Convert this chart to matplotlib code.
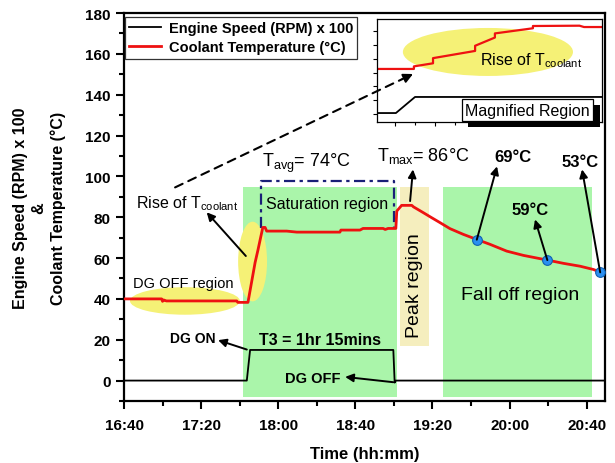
import numpy as np
import matplotlib
matplotlib.use("Agg")
import matplotlib.pyplot as plt
from matplotlib.patches import Ellipse, Rectangle, ConnectionPatch

plt.rcParams['font.family'] = ['Liberation Sans', 'DejaVu Sans']
plt.rcParams['mathtext.fontset'] = 'custom'
plt.rcParams['mathtext.rm'] = 'Liberation Sans'
plt.rcParams['mathtext.it'] = 'Liberation Sans:italic'
plt.rcParams['mathtext.bf'] = 'Liberation Sans:bold'
plt.rcParams['mathtext.default'] = 'regular'

# ---------------- data (time in minutes after 16:40) ----------------
tick_minutes = [0, 40, 80, 120, 160, 200, 240]
tick_labels = ["16:40", "17:20", "18:00", "18:40", "19:20", "20:00", "20:40"]

speed_t = [0, 63.7, 65.4, 139.7, 140.4, 141.0, 249.5]
speed_v = [0, 0, 15, 15, -1, 0, 0]

temp_t = [0, 19.5, 20.0, 20.5, 22.0, 58.5, 59.0, 64.3, 68.0, 69.5, 72.0, 73.2,
          74.0, 84.4, 89.6, 112.0, 112.5, 122.4, 124.0, 134.4, 135.5, 137.0,
          141.0, 141.5, 144.0, 149.3, 150.1, 155.3, 158.8, 164.0, 169.1, 176.0,
          183.0, 189.9, 198.5, 207.2, 219.6, 228.0, 236.6, 243.5, 247.0, 249.5]
temp_v = [40, 40, 38.8, 39.5, 39.0, 39.0, 38.3, 38.3, 57.8, 64.0, 75.0, 75.0,
          73.2, 73.2, 72.7, 72.7, 73.7, 73.7, 74.5, 74.5, 74.0, 74.5,
          74.5, 83.0, 85.8, 85.8, 85.1, 82.2, 80.2, 77.3, 74.4, 71.6,
          69.1, 66.7, 63.4, 61.3, 59.0, 57.4, 56.0, 54.4, 53.1, 52.5]

marked_t = [183.0, 219.6, 247.0]
marked_v = [69, 59, 53]
marked_labels = ["69°C", "59°C", "53°C"]

t_avg = 74
t_max = 86

# magnified inset (relative units 0-100)
inset_x_red = [0, 16.4, 16.4, 24.9, 24.9, 43.6, 43.6, 52.4, 52.4, 69.3, 69.3, 90.0, 92.0, 100]
inset_red = [51.5, 51.5, 54.0, 57.0, 62.0, 69.0, 74.0, 82.0, 86.0, 91.0, 93.2, 93.5, 92.2, 92.2]
inset_x_blk = [0, 8.4, 16.9, 100]
inset_blk = [8.7, 8.7, 24.3, 24.3]

# ---------------- figure ----------------
W, H = 615, 464
fig = plt.figure(figsize=(W / 100, H / 100), dpi=100)
ax = fig.add_axes([124 / W, 1 - 402 / H, (605 - 124) / W, (402 - 14) / H])

green = '#aaf5aa'
beige = '#f5eebe'
yellow = '#f5f176'

# shaded regions
ax.add_patch(Rectangle((61.9, -8), 141.8 - 61.9, 95 + 8, facecolor=green, edgecolor='none', zorder=0))
ax.add_patch(Rectangle((143.0, 17), 158.0 - 143.0, 95 - 17, facecolor=beige, edgecolor='none', zorder=0))
ax.add_patch(Rectangle((165.3, -8), 242.6 - 165.3, 95 + 8, facecolor=green, edgecolor='none', zorder=0))

# yellow ellipses
ax.add_patch(Ellipse((31.6, 39), 57, 13.5, facecolor=yellow, edgecolor='none', zorder=1))
ax.add_patch(Ellipse((66.7, 58.3), 15, 39, facecolor=yellow, edgecolor='none', zorder=1))

# saturation box
ax.plot([70.9, 70.9, 140.0, 140.0], [74.5, 97.7, 97.7, 74.5], color='#1a1f78',
        lw=1.6, linestyle=(0, (5, 2, 1.5, 2)), zorder=2)

l1, = ax.plot(speed_t, speed_v, color='black', lw=1.3, zorder=3, label='Engine Speed (RPM) x 100')
l2, = ax.plot(temp_t, temp_v, color='#ee1111', lw=2.0, zorder=4, label='Coolant Temperature (°C)')
ax.plot(marked_t, marked_v, 'o', ms=7, mfc='#2a8ff0', mec='#1060b0', mew=0.8, zorder=5)

ax.set_xlim(0, 249.5)
ax.set_ylim(-10, 180)
ax.set_xticks(tick_minutes)
ax.set_xticklabels(tick_labels)
ax.set_xticks(np.arange(20, 249, 40), minor=True)
ax.set_yticks(np.arange(0, 181, 20))
ax.set_yticks(np.arange(-10, 181, 20), minor=True)
ax.tick_params(which='major', direction='out', length=6, width=1.5, labelsize=11)
ax.tick_params(axis='x', which='major', pad=6)
ax.tick_params(which='minor', direction='out', length=3.5, width=1.5)
for lab in ax.get_xticklabels() + ax.get_yticklabels():
    lab.set_fontweight('bold')
for s in ax.spines.values():
    s.set_linewidth(1.6)

ax.set_xlabel('Time (hh:mm)', fontsize=12, fontweight='bold', labelpad=10)
ax.set_ylabel('Engine Speed (RPM) x 100\n&\nCoolant Temperature (°C)', fontsize=11.5,
              fontweight='bold', linespacing=1.3, labelpad=14)

leg = ax.legend(handles=[l1, l2], loc='upper left', bbox_to_anchor=(0.002, 0.99),
                borderaxespad=0, fancybox=False, edgecolor='#333333', framealpha=1,
                prop={'weight': 'bold', 'size': 10.5}, handlelength=2.2,
                labelspacing=0.35, borderpad=0.3, handletextpad=0.5)
leg.get_frame().set_linewidth(0.9)

arrow = dict(arrowstyle='-|>', color='black', lw=1.4, mutation_scale=12, shrinkA=0, shrinkB=0)

# texts and arrows
ax.text(4.7, 48, 'DG OFF region', fontsize=10.5, va='center', ha='left', zorder=6)
ax.text(6.2, 84.8, 'Rise of T$_{coolant}$', fontsize=11.5, va='baseline', ha='left', zorder=6)
ax.annotate('', xy=(42.9, 82.4), xytext=(63.2, 61), arrowprops=arrow, zorder=6)
ax.text(71.6, 105, 'T$_{avg}$= %d°C' % t_avg, fontsize=13, va='baseline', ha='left', zorder=6)
ax.text(131.3, 108, 'T$_{max}$= %d°C' % t_max, fontsize=13, va='baseline', ha='left', zorder=6)
ax.annotate('', xy=(149.9, 103.4), xytext=(148.4, 87.9), arrowprops=arrow, zorder=6)
ax.text(73.7, 86.8, 'Saturation region', fontsize=11.5, va='center', ha='left', zorder=6)
ax.text(150.5, 47, 'Peak region', fontsize=14, rotation=90, va='center', ha='center', zorder=6)
ax.text(205.5, 42.2, 'Fall off region', fontsize=14, va='center', ha='center', zorder=6)

label_pos = [(201.8, 109.8), (210.6, 83.8), (236.6, 107.4)]
arrow_heads = [(193.5, 104.9), (213.2, 78.9), (237.6, 103.4)]
for (tx, ty), (hx, hy), t, v, s in zip(label_pos, arrow_heads, marked_t, marked_v, marked_labels):
    ax.text(tx, ty, s, fontsize=12, fontweight='bold', va='center', ha='center', zorder=6)
    ax.annotate('', xy=(hx, hy), xytext=(t, v), arrowprops=arrow, zorder=6)

ax.text(23.9, 21, 'DG ON', fontsize=10, fontweight='bold', va='center', ha='left', zorder=6)
ax.annotate('', xy=(48.8, 19.8), xytext=(63.7, 15.2), arrowprops=arrow, zorder=6)
ax.text(101.7, 20.1, 'T3 = 1hr 15mins', fontsize=11.5, fontweight='bold', va='center', ha='center', zorder=6)
ax.text(83.5, 1.5, 'DG OFF', fontsize=10.5, fontweight='bold', va='center', ha='left', zorder=6)
ax.annotate('', xy=(114.7, 1.8), xytext=(139.7, -0.8), arrowprops=arrow, zorder=6)

# ---------------- inset ----------------
axin = fig.add_axes([377 / W, 1 - 123 / H, 225 / W, 103 / H])
axin.set_xlim(0, 100)
axin.set_ylim(0, 100)
axin.add_patch(Ellipse((49.3, 68), 75.6, 46.6, facecolor=yellow, edgecolor='none', zorder=0))
axin.plot(inset_x_red, inset_red, color='#ee1111', lw=1.6, zorder=2)
axin.plot(inset_x_blk, inset_blk, color='black', lw=1.3, zorder=2)
axin.text(45.8, 56.3, 'Rise of T$_{coolant}$', fontsize=11.5, va='baseline', ha='left', zorder=3)
axin.set_xticks(np.arange(8, 100, 17.8))
axin.set_xticks(np.arange(16.9, 100, 17.8), minor=True)
axin.set_yticks(np.arange(7.8, 100, 13.4))
axin.tick_params(which='both', direction='out', length=3, width=0.8,
                 labelbottom=False, labelleft=False)
axin.tick_params(which='minor', length=2)
for s in axin.spines.values():
    s.set_linewidth(0.9)

# magnified region label with shadow (figure pixel layout)
def fr(x0, y0, x1, y1):
    return (x0 / W, 1 - y1 / H), (x1 - x0) / W, (y1 - y0) / H

xy, w, h = fr(468, 106, 600, 128)
fig.add_artist(Rectangle(xy, w, h, transform=fig.transFigure, facecolor='black', edgecolor='none', zorder=5))
xy, w, h = fr(462, 100, 593, 122)
fig.add_artist(Rectangle(xy, w, h, transform=fig.transFigure, facecolor='white', edgecolor='black', lw=0.9, zorder=6))
fig.text(527.5 / W, 1 - 111.5 / H, 'Magnified Region', fontsize=11.5, ha='center', va='center', zorder=7)

# dashed pointer from main plot to inset
con = ConnectionPatch(xyA=(26.5, 94.6), coordsA=ax.transData, xyB=(11.2, 41.6), coordsB=axin.transData,
                      color='black', lw=1.5, linestyle=(0, (4, 3)), zorder=8)
fig.add_artist(con)
axin.annotate('', xy=(16.0, 46.6), xytext=(11.2, 41.6),
              arrowprops=dict(arrowstyle='-|>', color='black', lw=1.4, mutation_scale=14,
                              shrinkA=0, shrinkB=0), zorder=8)

fig.savefig('out.png', dpi=100)
